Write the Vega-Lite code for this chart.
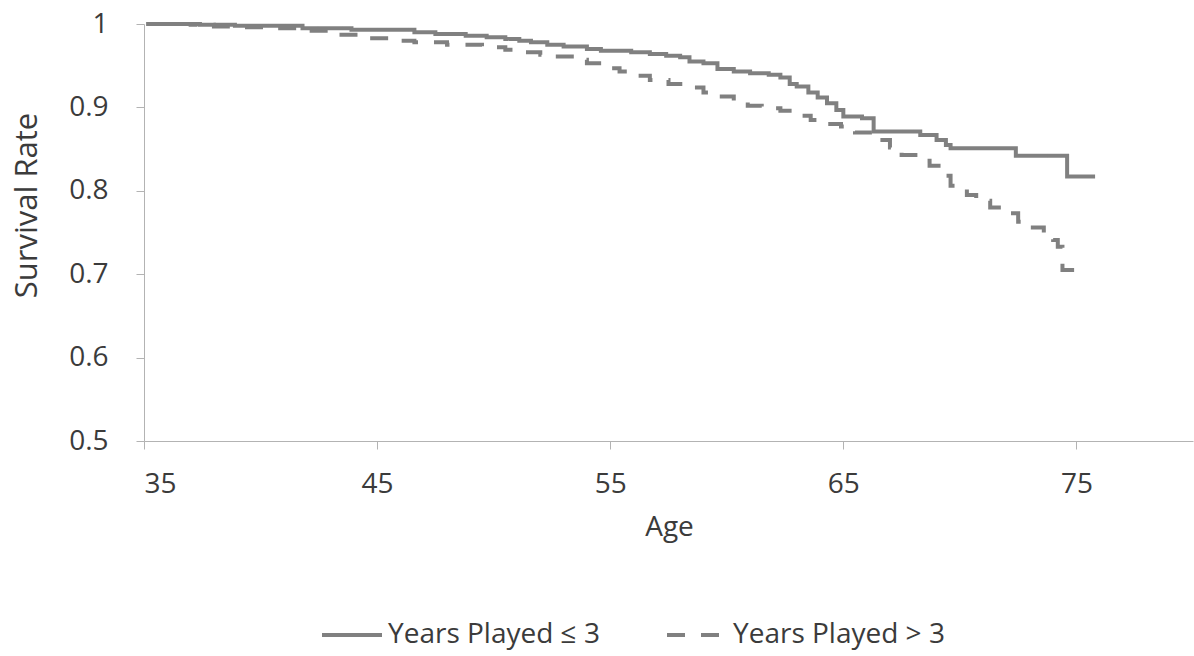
{
  "$schema": "https://vega.github.io/schema/vega-lite/v6.json",
  "width": 1049,
  "height": 417,
  "autosize": {"type": "none"},
  "padding": {"left": 144, "top": 24, "right": 1, "bottom": 215},
  "background": "white",
  "config": {"view": {"stroke": null}, "font": "Open Sans"},
  "data": {"values": [
    {"age": 35.1, "rate": 1.0, "group": "Years Played ≤ 3"},
    {"age": 37.4, "rate": 0.999, "group": "Years Played ≤ 3"},
    {"age": 38.9, "rate": 0.998, "group": "Years Played ≤ 3"},
    {"age": 41.8, "rate": 0.995, "group": "Years Played ≤ 3"},
    {"age": 43.9, "rate": 0.993, "group": "Years Played ≤ 3"},
    {"age": 46.6, "rate": 0.990, "group": "Years Played ≤ 3"},
    {"age": 47.5, "rate": 0.988, "group": "Years Played ≤ 3"},
    {"age": 48.8, "rate": 0.986, "group": "Years Played ≤ 3"},
    {"age": 49.7, "rate": 0.984, "group": "Years Played ≤ 3"},
    {"age": 50.5, "rate": 0.982, "group": "Years Played ≤ 3"},
    {"age": 51.1, "rate": 0.980, "group": "Years Played ≤ 3"},
    {"age": 51.6, "rate": 0.978, "group": "Years Played ≤ 3"},
    {"age": 52.3, "rate": 0.975, "group": "Years Played ≤ 3"},
    {"age": 53.0, "rate": 0.973, "group": "Years Played ≤ 3"},
    {"age": 54.0, "rate": 0.970, "group": "Years Played ≤ 3"},
    {"age": 54.6, "rate": 0.968, "group": "Years Played ≤ 3"},
    {"age": 55.9, "rate": 0.966, "group": "Years Played ≤ 3"},
    {"age": 56.7, "rate": 0.964, "group": "Years Played ≤ 3"},
    {"age": 57.4, "rate": 0.962, "group": "Years Played ≤ 3"},
    {"age": 58.0, "rate": 0.960, "group": "Years Played ≤ 3"},
    {"age": 58.4, "rate": 0.955, "group": "Years Played ≤ 3"},
    {"age": 59.0, "rate": 0.953, "group": "Years Played ≤ 3"},
    {"age": 59.6, "rate": 0.946, "group": "Years Played ≤ 3"},
    {"age": 60.3, "rate": 0.943, "group": "Years Played ≤ 3"},
    {"age": 61.0, "rate": 0.941, "group": "Years Played ≤ 3"},
    {"age": 61.8, "rate": 0.939, "group": "Years Played ≤ 3"},
    {"age": 62.3, "rate": 0.936, "group": "Years Played ≤ 3"},
    {"age": 62.7, "rate": 0.928, "group": "Years Played ≤ 3"},
    {"age": 63.0, "rate": 0.925, "group": "Years Played ≤ 3"},
    {"age": 63.5, "rate": 0.918, "group": "Years Played ≤ 3"},
    {"age": 63.9, "rate": 0.912, "group": "Years Played ≤ 3"},
    {"age": 64.3, "rate": 0.905, "group": "Years Played ≤ 3"},
    {"age": 64.7, "rate": 0.897, "group": "Years Played ≤ 3"},
    {"age": 65.0, "rate": 0.889, "group": "Years Played ≤ 3"},
    {"age": 65.8, "rate": 0.887, "group": "Years Played ≤ 3"},
    {"age": 66.3, "rate": 0.871, "group": "Years Played ≤ 3"},
    {"age": 68.3, "rate": 0.867, "group": "Years Played ≤ 3"},
    {"age": 69.0, "rate": 0.861, "group": "Years Played ≤ 3"},
    {"age": 69.4, "rate": 0.855, "group": "Years Played ≤ 3"},
    {"age": 69.6, "rate": 0.851, "group": "Years Played ≤ 3"},
    {"age": 72.4, "rate": 0.842, "group": "Years Played ≤ 3"},
    {"age": 74.6, "rate": 0.817, "group": "Years Played ≤ 3"},
    {"age": 75.8, "rate": 0.817, "group": "Years Played ≤ 3"},
    {"age": 35.1, "rate": 1.0, "group": "Years Played > 3"},
    {"age": 37.0, "rate": 0.999, "group": "Years Played > 3"},
    {"age": 38.0, "rate": 0.997, "group": "Years Played > 3"},
    {"age": 39.0, "rate": 0.996, "group": "Years Played > 3"},
    {"age": 40.5, "rate": 0.995, "group": "Years Played > 3"},
    {"age": 42.0, "rate": 0.992, "group": "Years Played > 3"},
    {"age": 43.3, "rate": 0.987, "group": "Years Played > 3"},
    {"age": 44.5, "rate": 0.983, "group": "Years Played > 3"},
    {"age": 45.5, "rate": 0.980, "group": "Years Played > 3"},
    {"age": 46.6, "rate": 0.978, "group": "Years Played > 3"},
    {"age": 48.0, "rate": 0.975, "group": "Years Played > 3"},
    {"age": 49.5, "rate": 0.972, "group": "Years Played > 3"},
    {"age": 50.5, "rate": 0.969, "group": "Years Played > 3"},
    {"age": 51.1, "rate": 0.966, "group": "Years Played > 3"},
    {"age": 52.0, "rate": 0.963, "group": "Years Played > 3"},
    {"age": 52.6, "rate": 0.961, "group": "Years Played > 3"},
    {"age": 53.5, "rate": 0.957, "group": "Years Played > 3"},
    {"age": 54.0, "rate": 0.953, "group": "Years Played > 3"},
    {"age": 55.0, "rate": 0.947, "group": "Years Played > 3"},
    {"age": 55.4, "rate": 0.943, "group": "Years Played > 3"},
    {"age": 56.2, "rate": 0.938, "group": "Years Played > 3"},
    {"age": 56.7, "rate": 0.933, "group": "Years Played > 3"},
    {"age": 57.5, "rate": 0.928, "group": "Years Played > 3"},
    {"age": 58.1, "rate": 0.924, "group": "Years Played > 3"},
    {"age": 59.0, "rate": 0.918, "group": "Years Played > 3"},
    {"age": 59.5, "rate": 0.913, "group": "Years Played > 3"},
    {"age": 60.3, "rate": 0.907, "group": "Years Played > 3"},
    {"age": 60.9, "rate": 0.902, "group": "Years Played > 3"},
    {"age": 61.5, "rate": 0.899, "group": "Years Played > 3"},
    {"age": 62.3, "rate": 0.896, "group": "Years Played > 3"},
    {"age": 63.0, "rate": 0.890, "group": "Years Played > 3"},
    {"age": 63.6, "rate": 0.885, "group": "Years Played > 3"},
    {"age": 64.3, "rate": 0.880, "group": "Years Played > 3"},
    {"age": 64.9, "rate": 0.877, "group": "Years Played > 3"},
    {"age": 65.5, "rate": 0.870, "group": "Years Played > 3"},
    {"age": 66.3, "rate": 0.861, "group": "Years Played > 3"},
    {"age": 67.0, "rate": 0.852, "group": "Years Played > 3"},
    {"age": 67.5, "rate": 0.843, "group": "Years Played > 3"},
    {"age": 68.2, "rate": 0.836, "group": "Years Played > 3"},
    {"age": 68.7, "rate": 0.830, "group": "Years Played > 3"},
    {"age": 69.3, "rate": 0.818, "group": "Years Played > 3"},
    {"age": 69.6, "rate": 0.806, "group": "Years Played > 3"},
    {"age": 70.3, "rate": 0.795, "group": "Years Played > 3"},
    {"age": 70.7, "rate": 0.788, "group": "Years Played > 3"},
    {"age": 71.3, "rate": 0.780, "group": "Years Played > 3"},
    {"age": 71.8, "rate": 0.773, "group": "Years Played > 3"},
    {"age": 72.5, "rate": 0.763, "group": "Years Played > 3"},
    {"age": 73.0, "rate": 0.756, "group": "Years Played > 3"},
    {"age": 73.6, "rate": 0.748, "group": "Years Played > 3"},
    {"age": 74.0, "rate": 0.741, "group": "Years Played > 3"},
    {"age": 74.2, "rate": 0.733, "group": "Years Played > 3"},
    {"age": 74.4, "rate": 0.705, "group": "Years Played > 3"},
    {"age": 74.9, "rate": 0.705, "group": "Years Played > 3"}
  ]},
  "mark": {"type": "line", "interpolate": "step-after", "strokeWidth": 4, "color": "#808080"},
  "encoding": {
    "x": {
      "field": "age", "type": "quantitative",
      "scale": {"domain": [35, 80], "nice": false, "zero": false},
      "axis": {
        "values": [35, 45, 55, 65, 75], "grid": false,
        "domainColor": "#b3b3b3", "tickColor": "#b3b3b3", "tickSize": 8,
        "labelFontSize": 28, "labelColor": "#3b3b3b", "labelPadding": 21,
        "title": "Age", "titleFontSize": 28, "titleFontWeight": "normal", "titleColor": "#3b3b3b",
        "titleX": 525, "titleY": 94, "titleBaseline": "alphabetic"
      }
    },
    "y": {
      "field": "rate", "type": "quantitative",
      "scale": {"domain": [0.5, 1], "nice": false, "zero": false},
      "axis": {
        "values": [0.5, 0.6, 0.7, 0.8, 0.9, 1], "format": "~g", "grid": false,
        "domainColor": "#b3b3b3", "tickColor": "#b3b3b3", "tickSize": 8,
        "labelFontSize": 28, "labelColor": "#3b3b3b", "labelPadding": 28,
        "title": "Survival Rate", "titleFontSize": 31, "titleFontWeight": "normal", "titleColor": "#3b3b3b",
        "titleX": -117, "titleY": 181, "titleAlign": "center", "titleBaseline": "middle", "titleAngle": 270
      }
    },
    "strokeDash": {
      "field": "group", "type": "nominal",
      "scale": {"domain": ["Years Played ≤ 3", "Years Played > 3"], "range": [[1, 0], [18, 16]]},
      "legend": {
        "title": null, "orient": "none", "legendX": 176, "legendY": 579, "direction": "horizontal",
        "symbolType": "stroke", "symbolSize": 3600, "symbolStrokeWidth": 4, "symbolStrokeColor": "#808080",
        "labelFontSize": 28, "labelColor": "#3b3b3b", "labelOffset": 4, "columnPadding": 59, "labelLimit": 400
      }
    }
  }
}
